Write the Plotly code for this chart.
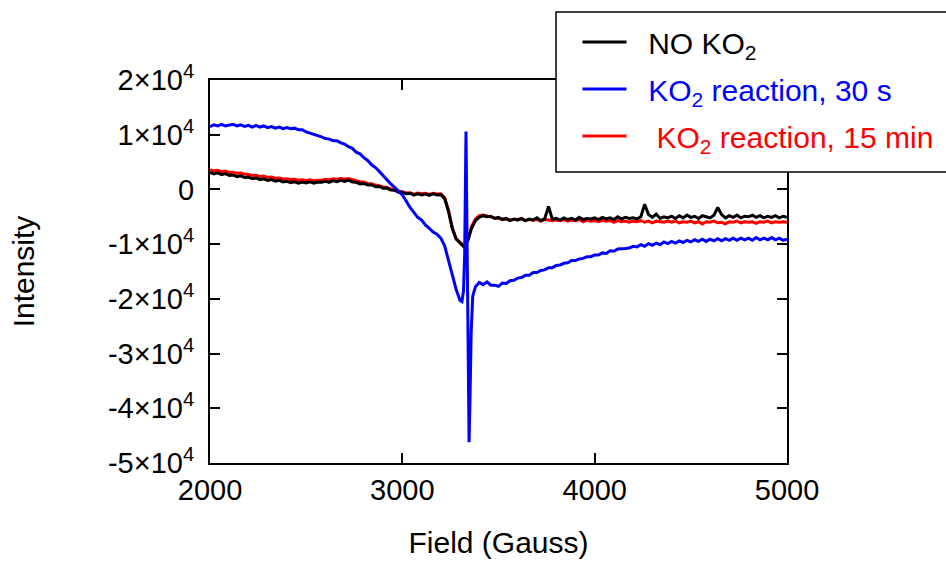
import plotly.graph_objects as go

# Field grid (Gauss) for the black / red traces
field = list(range(2000, 5001, 20))

no_ko2 = [
    3100, 2850, 3050, 2700, 2900, 2550, 2650, 2350, 2500, 2200,
    2250, 1950, 2100, 1800, 1950, 1650, 1800, 1500, 1650, 1350,
    1500, 1250, 1400, 1150, 1350, 1200, 1400, 1150, 1350, 1300,
    1500, 1300, 1600, 1400, 1650, 1450, 1700, 1350, 1300, 1000,
    1100, 800, 850, 500, 550, 200, 250, -100, -150, -500,
    -500, -800, -700, -1050, -800, -1000, -850, -1100, -800, -1000,
    -950, -1700, -4000, -7200, -9100, -9800, -10500, -9400, -7100, -5700,
    -5100, -4800, -5000, -4900, -5300, -5100, -5500, -5300, -5700, -5400,
    -5600, -5300, -5700, -5400, -5600, -5200, -5700, -5400, -3100, -5500,
    -5300, -5600, -5200, -5500, -5300, -5600, -5100, -5500, -5300, -5400,
    -5200, -5500, -5100, -5400, -5200, -5500, -5000, -5400, -5100, -5300,
    -5200, -5400, -5000, -2700, -4600, -5100, -4500, -5300, -5000, -5200,
    -4900, -5300, -4800, -5200, -4700, -5100, -4900, -5300, -4800, -5000,
    -5200, -4700, -3300, -4600, -5200, -4800, -5100, -4700, -5200, -4900,
    -5000, -4700, -5100, -4800, -5200, -4900, -5100, -4800, -5200, -4900,
    -5100,
]

ko2_15min = [
    3600, 3400, 3500, 3250, 3350, 3100, 3150, 2950, 3000, 2800,
    2750, 2550, 2600, 2350, 2450, 2200, 2250, 2050, 2100, 1900,
    1950, 1800, 1850, 1700, 1750, 1650, 1750, 1600, 1700, 1700,
    1850, 1750, 1950, 1850, 2000, 1900, 2000, 1800, 1650, 1400,
    1350, 1100, 1050, 800, 700, 450, 350, 100, -50, -350,
    -400, -650, -600, -850, -650, -800, -700, -900, -700, -850,
    -800, -1500, -3800, -7000, -9000, -9700, -10300, -9200, -6800, -5400,
    -4800, -4700, -4900, -5000, -5200, -5300, -5400, -5500, -5600, -5500,
    -5500, -5400, -5700, -5500, -5600, -5500, -5800, -5500, -5600, -5700,
    -5600, -5700, -5500, -5800, -5600, -5700, -5500, -5900, -5600, -5800,
    -5700, -5900, -5600, -5800, -5700, -6000, -5700, -5900, -5800, -6000,
    -5800, -5900, -5700, -6000, -5800, -6100, -5800, -5900, -6000, -5800,
    -6000, -5800, -6100, -5900, -6000, -5800, -6100, -5900, -6300, -5900,
    -6000, -5800, -6100, -6000, -6300, -5900, -6000, -5800, -6100, -5900,
    -6000, -5900, -6200, -5900, -6000, -5800, -6100, -5900, -6000, -5900,
    -6000,
]

field_30s = [
    2000, 2020, 2040, 2060, 2080, 2100, 2120, 2140, 2160, 2180,
    2200, 2220, 2240, 2260, 2280, 2300, 2320, 2340, 2360, 2380,
    2400, 2420, 2440, 2460, 2480, 2500, 2520, 2540, 2560, 2580,
    2600, 2620, 2640, 2660, 2680, 2700, 2720, 2740, 2760, 2780,
    2800, 2820, 2840, 2860, 2880, 2900, 2920, 2940, 2960, 2980,
    3000, 3020, 3040, 3060, 3080, 3100, 3120, 3140, 3160, 3180,
    3200, 3220, 3240, 3260, 3280,
    3300, 3310, 3318, 3324, 3331, 3337, 3342, 3347, 3352, 3358, 3366,
    3380, 3400, 3420, 3440, 3460, 3480, 3500, 3520, 3540, 3560,
    3580, 3600, 3620, 3640, 3660, 3680, 3700, 3720, 3740, 3760,
    3780, 3800, 3820, 3840, 3860, 3880, 3900, 3920, 3940, 3960,
    3980, 4000, 4020, 4040, 4060, 4080, 4100, 4120, 4140, 4160,
    4180, 4200, 4220, 4240, 4260, 4280, 4300, 4320, 4340, 4360,
    4380, 4400, 4420, 4440, 4460, 4480, 4500, 4520, 4540, 4560,
    4580, 4600, 4620, 4640, 4660, 4680, 4700, 4720, 4740, 4760,
    4780, 4800, 4820, 4840, 4860, 4880, 4900, 4920, 4940, 4960,
    4980, 5000,
]

ko2_30s = [
    11500, 11800, 11600, 11900, 11600, 11800, 11900, 11600, 11800, 11500,
    11700, 11400, 11700, 11400, 11600, 11300, 11500, 11200, 11400, 11100,
    11300, 11100, 11200, 10900, 10900, 10500, 10300, 10100, 9800, 9600,
    9300, 9200, 8900, 8900, 8500, 8300, 7800, 7500, 6800, 6500,
    5800, 5300, 4500, 4000, 3300, 2500, 1900, 1000, 400, -400,
    -1000, -2100, -3300, -4200, -5100, -5600, -6500, -7100, -7800, -8200,
    -8900, -10300, -13000, -16000, -18300,
    -20300, -20500, -18500, -12000, 10600, -15000, -33000, -46200, -38000, -26000, -19500,
    -17800, -17000, -17400, -16900, -17500, -17500, -17700, -17100, -17200, -16700,
    -16600, -16200, -16100, -15700, -15700, -15200, -15200, -14800, -14700, -14300,
    -14300, -13900, -13800, -13500, -13400, -13000, -13000, -12700, -12600, -12300,
    -12300, -12000, -12000, -11600, -11700, -11200, -11300, -10900, -10900, -10800,
    -10700, -10400, -10500, -10100, -10400, -9900, -10200, -9800, -10100, -9600,
    -9900, -9500, -9800, -9400, -9700, -9300, -9600, -9200, -9500, -9100,
    -9500, -9100, -9400, -9000, -9400, -9000, -9300, -8900, -9300, -8900,
    -9200, -8900, -9300, -8800, -9200, -8900, -9200, -8800, -9200, -8900,
    -9300, -9100,
]

x_ticks = [2000, 3000, 4000, 5000]
y_ticks = [20000, 10000, 0, -10000, -20000, -30000, -40000, -50000]
y_ticklabels = ["2×10<sup>4</sup>", "1×10<sup>4</sup>", "0", "-1×10<sup>4</sup>",
                "-2×10<sup>4</sup>", "-3×10<sup>4</sup>", "-4×10<sup>4</sup>", "-5×10<sup>4</sup>"]

FONT = "Liberation Sans, Arial, sans-serif"
NB = "\u00a0"

fig = go.Figure()
fig.add_trace(go.Scatter(
    x=field, y=ko2_15min, mode="lines",
    line=dict(color="#ff0000", width=3),
    name='<span style="color:#ff0000">' + NB * 3 + 'KO<sub>2</sub> reaction, 15 min</span>',
    legendrank=3, legendgroup="c",
))
fig.add_trace(go.Scatter(
    x=field, y=no_ko2, mode="lines",
    line=dict(color="#000000", width=3),
    name='<span style="color:#000000">' + NB * 2 + 'NO KO<sub>2</sub></span>',
    legendrank=1, legendgroup="a",
))
fig.add_trace(go.Scatter(
    x=field_30s, y=ko2_30s, mode="lines",
    line=dict(color="#0000ff", width=3),
    name='<span style="color:#0000ff">' + NB * 2 + 'KO<sub>2</sub> reaction, 30 s</span>',
    legendrank=2, legendgroup="b",
))

axis_common = dict(
    showline=True, linecolor="black", linewidth=2,
    mirror="ticks", ticks="inside", ticklen=10, tickwidth=1.5, tickcolor="black",
    showgrid=False, zeroline=False,
    tickfont=dict(family=FONT, size=29, color="black"),
)

fig.update_xaxes(
    range=[2000, 5000], tickvals=x_ticks, ticktext=[str(v) for v in x_ticks],
    title=dict(text="Field (Gauss)", font=dict(family=FONT, size=30, color="black"), standoff=27),
    **axis_common,
)
fig.update_yaxes(
    range=[-50000, 20000], tickvals=y_ticks, ticktext=y_ticklabels,
    ticklabelstandoff=8,
    title=dict(text="Intensity", font=dict(family=FONT, size=30, color="black"), standoff=64),
    **axis_common,
)

fig.update_layout(
    width=946, height=561,
    margin=dict(l=210, r=159, t=80, b=98, autoexpand=False),
    paper_bgcolor="white", plot_bgcolor="white",
    font=dict(family=FONT, size=28, color="black"),
    shapes=[dict(
        type="rect", xref="paper", yref="paper",
        x0=0.5997, x1=1.32, y0=0.7598, y1=1.1775,
        line=dict(color="black", width=1.5), fillcolor="white", layer="above",
    )],
    legend=dict(
        x=0.6369, y=1.1671, xanchor="left", yanchor="top",
        xref="paper", yref="paper",
        bgcolor="rgba(0,0,0,0)", borderwidth=0,
        itemwidth=44, tracegroupgap=5,
        font=dict(family=FONT, size=30),
    ),
    showlegend=True,
)

fig.write_html("out.html")
